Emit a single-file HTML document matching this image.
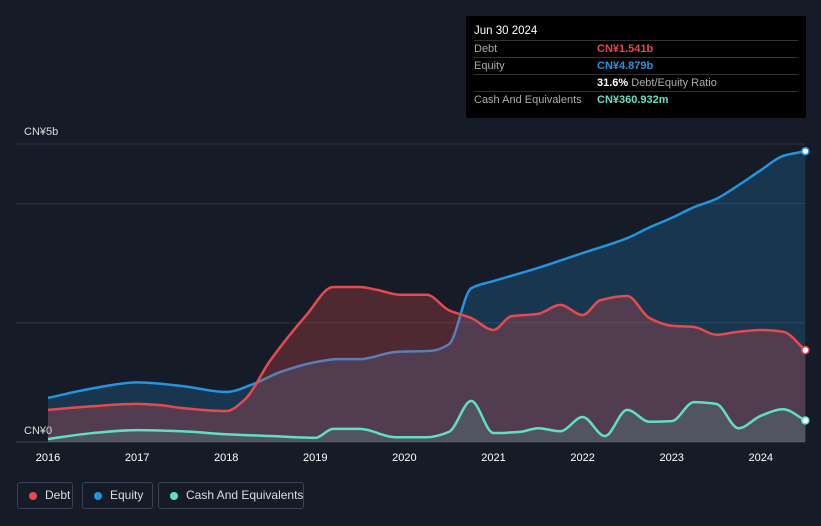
<!DOCTYPE html>
<html><head><meta charset="utf-8"><style>
html,body{margin:0;background:#161c27;width:821px;height:526px;overflow:hidden;font-family:"Liberation Sans",sans-serif;}
#c{position:absolute;left:0;top:0}
.tip{position:absolute;left:466px;top:16px;width:340px;height:102px;background:#000;color:#fff;font-size:11px}
.tip .h{position:absolute;left:8px;top:9px;font-size:11.5px}
.row{position:absolute;left:8px;width:324px;border-top:1px solid #333;height:17px;line-height:17px}
.row span.l{color:#aaa;position:absolute;left:0}
.row span.v{position:absolute;left:123px;font-weight:bold;white-space:nowrap}
.leg{position:absolute;top:482px;height:27px;border:1px solid #3a4150;border-radius:3px;color:#ddd;font-size:12px;line-height:25px;box-sizing:border-box;padding-left:27px;white-space:nowrap}
.leg i{position:absolute;left:11px;top:9px;width:8px;height:8px;border-radius:50%}
</style></head><body>
<svg id="c" width="821" height="526"></svg>
<div class="tip">
<div class="h">Jun 30 2024</div>
<div class="row" style="top:24px"><span class="l">Debt</span><span class="v" style="color:#e64a4f">CN¥1.541b</span></div>
<div class="row" style="top:41px"><span class="l">Equity</span><span class="v" style="color:#2394df">CN¥4.879b</span></div>
<div class="row" style="top:58px"><span class="v" style="color:#fff">31.6% <span style="color:#aaa;font-weight:normal">Debt/Equity Ratio</span></span></div>
<div class="row" style="top:75px"><span class="l">Cash And Equivalents</span><span class="v" style="color:#5ee0c8">CN¥360.932m</span></div>
</div>
<div class="leg" style="left:17px;width:56px"><i style="background:#e64a4f"></i>Debt</div>
<div class="leg" style="left:82px;width:71px"><i style="background:#2394df"></i>Equity</div>
<div class="leg" style="left:158px;width:146px"><i style="background:#5ee0c8"></i>Cash And Equivalents</div>
<script>
const eqT=[2016,2016.5,2017,2017.5,2018,2018.3,2018.6,2019,2019.25,2019.5,2019.9,2020.3,2020.5,2020.75,2021,2021.5,2022,2022.5,2022.75,2023,2023.25,2023.5,2023.75,2024,2024.25,2024.5];
const eqV=[0.74,0.9,1.0,0.94,0.84,0.97,1.17,1.34,1.39,1.39,1.51,1.53,1.64,2.58,2.7,2.92,3.17,3.42,3.6,3.76,3.94,4.08,4.31,4.56,4.8,4.879];
const dT=[2016,2016.5,2017,2017.25,2017.5,2018,2018.2,2018.5,2018.9,2019.2,2019.5,2019.7,2019.95,2020.25,2020.5,2020.75,2021,2021.2,2021.5,2021.75,2022,2022.2,2022.5,2022.75,2023,2023.25,2023.5,2023.75,2024,2024.25,2024.5];
const dV=[0.54,0.6,0.64,0.62,0.57,0.52,0.7,1.38,2.13,2.6,2.6,2.55,2.47,2.47,2.21,2.08,1.88,2.11,2.15,2.3,2.13,2.38,2.45,2.08,1.95,1.93,1.8,1.85,1.88,1.85,1.541];
const cT=[2016,2016.5,2017,2017.5,2018,2018.5,2019,2019.2,2019.5,2019.9,2020.25,2020.5,2020.75,2021,2021.3,2021.5,2021.75,2022,2022.25,2022.5,2022.75,2023,2023.25,2023.5,2023.75,2024,2024.25,2024.5];
const cV=[0.05,0.15,0.2,0.18,0.13,0.1,0.07,0.22,0.22,0.08,0.08,0.17,0.69,0.15,0.17,0.23,0.18,0.42,0.1,0.54,0.34,0.35,0.67,0.64,0.23,0.44,0.55,0.361];
const years=[2016,2017,2018,2019,2020,2021,2022,2023,2024];
const X=t=>48+(t-2016)*89.1, Y=v=>442-v*59.6;
const svg=document.getElementById('c'),NS='http://www.w3.org/2000/svg';
function mk(tag,a){const e=document.createElementNS(NS,tag);for(const k in a)e.setAttribute(k,a[k]);svg.appendChild(e);return e;}
function path(T,V){const p=T.map((t,i)=>[X(t),Y(V[i])]);const n=p.length;const d=[],m=[];
for(let i=0;i<n-1;i++)d.push((p[i+1][1]-p[i][1])/(p[i+1][0]-p[i][0]));
m[0]=d[0];m[n-1]=d[n-2];for(let i=1;i<n-1;i++)m[i]=d[i-1]*d[i]<=0?0:(2/(1/d[i-1]+1/d[i]));
let s='M'+p[0][0]+','+p[0][1];for(let i=0;i<n-1;i++){const h=(p[i+1][0]-p[i][0])/3;
s+=`C${p[i][0]+h},${p[i][1]+m[i]*h} ${p[i+1][0]-h},${p[i+1][1]-m[i+1]*h} ${p[i+1][0]},${p[i+1][1]}`;}return s;}
let e;
[5,4,2].forEach(v=>{e=mk('line',{x1:16,x2:805,y1:Y(v),y2:Y(v),stroke:'#2c333f'});});
e=mk('line',{x1:16,x2:805,y1:442,y2:442,stroke:'#3a414d'});
const series=[[eqT,eqV,'#2394df','rgba(35,148,223,0.22)','equity'],[dT,dV,'#e64a4f','rgba(230,74,79,0.28)','debt'],[cT,cV,'#5ee0c8','rgba(94,224,200,0.15)','cash']];
series.forEach(([T,V,col,fill,nm])=>{const p=path(T,V);
e=mk('path',{d:p+`L${X(T[T.length-1])},442L${X(T[0])},442Z`,fill:fill});
e=mk('path',{d:p,fill:'none',stroke:col,'stroke-width':2.5});
e=mk('circle',{cx:X(T[T.length-1]),cy:Y(V[V.length-1]),r:3.5,fill:'#fff',stroke:col,'stroke-width':1.5});});
years.forEach(y=>{e=mk('text',{x:X(y),y:461,fill:'#fff','font-size':11,'text-anchor':'middle'});e.textContent=y;});
e=mk('text',{x:24,y:135,fill:'#ddd','font-size':11});e.textContent='CN¥5b';
e=mk('text',{x:24,y:434,fill:'#ddd','font-size':11});e.textContent='CN¥0';
</script>
</body></html>
